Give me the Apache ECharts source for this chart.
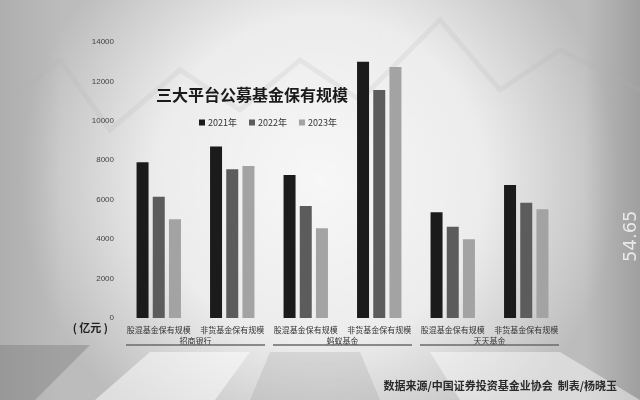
<!DOCTYPE html>
<html>
<head>
<meta charset="utf-8">
<script src="https://cdn.jsdelivr.net/npm/echarts@6/dist/echarts.min.js"></script>
<style>html,body{margin:0;padding:0;background:#fff}#c{width:640px;height:400px}</style>
</head>
<body>
<div id="c"></div>
<script>
const categories = ['股混基金保有规模','非货基金保有规模','股混基金保有规模','非货基金保有规模','股混基金保有规模','非货基金保有规模'];
const platforms = ['招商银行','蚂蚁基金','天天基金'];
const years = ['2021年','2022年','2023年'];
const v2021 = [7900, 8700, 7250, 13000, 5370, 6750];
const v2022 = [6150, 7550, 5680, 11570, 4630, 5850];
const v2023 = [5010, 7710, 4550, 12730, 3990, 5520];
const yTicks = {min: 0, max: 14000, interval: 2000};
const colors = ['#1b1b1b', '#5c5c5c', '#a3a3a3'];

const chart = echarts.init(document.getElementById('c'), null, {renderer: 'canvas'});
const FONT = '"Noto Sans CJK SC", "Noto Sans", sans-serif';

const bgGraphics = [
  {type: 'rect', z: -20, silent: true, shape: {x: 0, y: 0, width: 640, height: 400},
   style: {fill: {type: 'radial', x: 0.5, y: 0.45, r: 0.75,
     colorStops: [{offset: 0, color: '#f7f7f7'}, {offset: 0.55, color: '#ececec'}, {offset: 1, color: '#bcbcbc'}]}}},
  {type: 'rect', z: -19, silent: true, shape: {x: 0, y: 0, width: 60, height: 400},
   style: {fill: {type: 'linear', x: 0, y: 0, x2: 1, y2: 0,
     colorStops: [{offset: 0, color: 'rgba(160,160,160,0.5)'}, {offset: 1, color: 'rgba(160,160,160,0)'}]}}},
  {type: 'rect', z: -19, silent: true, shape: {x: 585, y: 0, width: 55, height: 400},
   style: {fill: {type: 'linear', x: 0, y: 0, x2: 1, y2: 0,
     colorStops: [{offset: 0, color: 'rgba(140,140,140,0)'}, {offset: 1, color: 'rgba(140,140,140,0.6)'}]}}},
  {type: 'polygon', z: -18, silent: true, shape: {points: [[0, 345], [90, 345], [35, 400], [0, 400]]},
   style: {fill: 'rgba(120,120,120,0.4)'}},
  {type: 'polygon', z: -18, silent: true, shape: {points: [[150, 352], [250, 352], [215, 400], [95, 400]]},
   style: {fill: 'rgba(255,255,255,0.5)'}},
  {type: 'polygon', z: -18, silent: true, shape: {points: [[270, 352], [360, 352], [380, 400], [250, 400]]},
   style: {fill: 'rgba(130,130,130,0.18)'}},
  {type: 'polygon', z: -18, silent: true, shape: {points: [[430, 352], [560, 352], [640, 400], [460, 400]]},
   style: {fill: 'rgba(255,255,255,0.45)'}},
  {type: 'polyline', z: -17, silent: true,
   shape: {points: [[0, 110], [60, 60], [110, 130], [180, 70], [240, 110], [300, 60], [360, 100], [440, 20], [500, 90], [560, 50], [640, 90]]},
   style: {stroke: 'rgba(180,180,180,0.18)', lineWidth: 5, fill: null}},
  {type: 'text', z: -16, silent: true, x: 622, y: 262, rotation: Math.PI / 2,
   style: {text: '54.65', fill: 'rgba(255,255,255,0.75)', font: '18px "DejaVu Sans", sans-serif'}}
];

const option = {
  animation: false,
  color: colors,
  title: [
    {text: '三大平台公募基金保有规模', left: 151, top: 82,
     textStyle: {fontSize: 16, fontWeight: 'bold', color: '#1a1a1a', fontFamily: FONT}},
    {text: '数据来源/中国证券投资基金业协会  制表/杨晓玉', right: 18, top: 375,
     textStyle: {fontSize: 11, fontWeight: 'bold', color: '#2a2a2a', fontFamily: FONT}}
  ],
  legend: {
    data: years, left: 194, top: 113, itemWidth: 6, itemHeight: 6, itemGap: 12,
    icon: 'rect',
    textStyle: {fontSize: 9, color: '#333', fontFamily: FONT, padding: [0, 0, 0, -2]}
  },
  grid: {left: 122, right: 77, top: 42, bottom: 82, containLabel: false},
  xAxis: [
    {type: 'category', data: categories, boundaryGap: true,
     axisLine: {show: false}, axisTick: {show: false},
     axisLabel: {interval: 0, margin: 8, fontSize: 8, color: '#333', fontFamily: FONT}},
    {type: 'category', data: platforms, position: 'bottom', offset: 11,
     axisLine: {show: false}, axisTick: {show: false},
     axisLabel: {interval: 0, margin: 8, fontSize: 8, color: '#333', fontFamily: FONT}}
  ],
  yAxis: {
    type: 'value', min: yTicks.min, max: yTicks.max, interval: yTicks.interval,
    axisLine: {show: false}, axisTick: {show: false}, splitLine: {show: false},
    axisLabel: {fontSize: 8, color: '#444', margin: 8, fontFamily: '"Liberation Sans Narrow", "Liberation Sans", sans-serif',
      formatter: v => String(v)},
    name: '( 亿元 )', nameLocation: 'start', nameGap: 4,
    nameTextStyle: {fontSize: 11, fontWeight: 'bold', color: '#222', align: 'right',
      verticalAlign: 'top', padding: [0, 14, 0, 0], fontFamily: FONT}
  },
  series: [
    {name: years[0], type: 'bar', data: v2021, barWidth: 12, barGap: '35%', itemStyle: {color: colors[0]}},
    {name: years[1], type: 'bar', data: v2022, barWidth: 12, barGap: '35%', itemStyle: {color: colors[1]}},
    {name: years[2], type: 'bar', data: v2023, barWidth: 12, barGap: '35%', itemStyle: {color: colors[2]}}
  ],
  graphic: bgGraphics
};
chart.setOption(option);

// underlines beneath each platform pair, from the category axis scale
const lines = [];
for (let p = 0; p < platforms.length; p++) {
  const a = chart.convertToPixel({xAxisIndex: 0}, 2 * p);
  const b = chart.convertToPixel({xAxisIndex: 0}, 2 * p + 1);
  const half = (b - a) / 2;
  const y = chart.convertToPixel({yAxisIndex: 0}, 0) + 27;
  lines.push({type: 'line', silent: true, z: 5,
    shape: {x1: a - half + 4, y1: y, x2: b + half - 4, y2: y},
    style: {stroke: '#6a6a6a', lineWidth: 1.5}});
}
chart.setOption({graphic: bgGraphics.concat(lines)});
</script>
</body>
</html>
